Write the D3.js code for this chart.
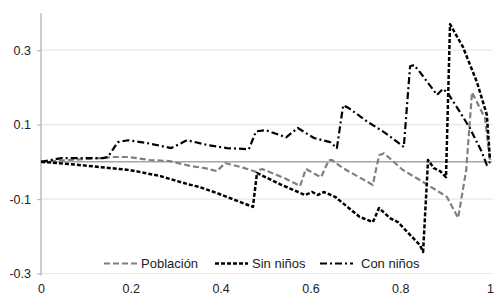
<!DOCTYPE html>
<html><head><meta charset="utf-8">
<script src="https://cdn.jsdelivr.net/npm/d3@7"></script>
<style>body{margin:0;background:#fff}svg{display:block}text{font-family:"Liberation Sans",Arial,sans-serif}</style>
</head><body><svg id="c" width="504" height="299"></svg>
<script>
const seriesNames = ["Población", "Sin niños", "Con niños"];
const xTicks = [0, 0.2, 0.4, 0.6, 0.8, 1];
const xTickLabels = ["0", "0.2", "0.4", "0.6", "0.8", "1"];
const yTicks = [-0.3, -0.1, 0.1, 0.3];
const yTickLabels = ["-0.3", "-0.1", "0.1", "0.3"];

const poblacion = [[0,0],[0.065,0.005],[0.131,0.010],[0.160,0.013],[0.194,0.013],[0.243,0.005],[0.287,0.002],[0.332,-0.011],[0.365,-0.017],[0.392,-0.025],[0.410,-0.003],[0.454,-0.017],[0.479,-0.027],[0.492,-0.019],[0.543,-0.044],[0.577,-0.065],[0.590,-0.019],[0.606,-0.030],[0.624,-0.041],[0.641,0.005],[0.648,0.005],[0.673,-0.017],[0.739,-0.062],[0.753,0.018],[0.764,0.023],[0.806,-0.022],[0.851,-0.054],[0.904,-0.094],[0.929,-0.151],[0.947,-0.022],[0.960,0.187],[0.971,0.160],[0.989,0.117],[1.0,0.002]];
const sinNinos = [[0,0],[0.065,-0.006],[0.131,-0.014],[0.198,-0.022],[0.265,-0.038],[0.327,-0.060],[0.354,-0.068],[0.392,-0.084],[0.472,-0.121],[0.481,-0.030],[0.532,-0.060],[0.588,-0.089],[0.604,-0.081],[0.617,-0.089],[0.630,-0.081],[0.655,-0.094],[0.710,-0.148],[0.739,-0.162],[0.753,-0.124],[0.777,-0.151],[0.795,-0.162],[0.844,-0.224],[0.851,-0.242],[0.862,0.005],[0.875,-0.017],[0.889,-0.025],[0.902,-0.041],[0.911,0.370],[0.940,0.308],[0.971,0.214],[0.993,0.126],[1.0,0.005]];
const conNinos = [[0,0],[0.045,0.010],[0.089,0.010],[0.138,0.010],[0.149,0.013],[0.171,0.053],[0.194,0.058],[0.238,0.050],[0.290,0.037],[0.325,0.058],[0.372,0.045],[0.414,0.037],[0.463,0.034],[0.479,0.082],[0.501,0.085],[0.546,0.066],[0.572,0.091],[0.608,0.064],[0.644,0.053],[0.659,0.037],[0.673,0.152],[0.686,0.144],[0.728,0.107],[0.764,0.080],[0.808,0.040],[0.822,0.257],[0.831,0.260],[0.844,0.241],[0.882,0.180],[0.895,0.196],[0.906,0.185],[0.933,0.134],[0.955,0.091],[0.982,0.026],[0.993,-0.009],[1.0,0.0]];

const svg = d3.select("#c");
const x = d3.scaleLinear().domain([0,1]).range([41,490]);
const y = d3.scaleLinear().domain([-0.3,0.4]).range([273.5,13]);

// gridlines
svg.append("g").selectAll("line").data(yTicks).join("line")
  .attr("x1",41).attr("x2",493).attr("y1",d=>y(d)).attr("y2",d=>y(d))
  .attr("stroke","#e9e7df").attr("stroke-width",1.2);

// y axis
const yAxis = d3.axisLeft(y).tickValues(yTicks).tickFormat((d,i)=>yTickLabels[i]).tickSize(4).tickPadding(6);
const gy = svg.append("g").attr("transform","translate(41,0)").call(yAxis);
gy.select(".domain").attr("stroke","#bcbcbc").attr("stroke-width",1.5).attr("d","M0,13V275.5");
gy.selectAll(".tick line").attr("stroke","#bcbcbc").attr("stroke-width",1.2);
gy.selectAll("text").attr("font-size",12.5).attr("fill","#222").attr("font-family","Liberation Sans, Arial, sans-serif");

// x axis (labels at bottom)
const xAxis = d3.axisBottom(x).tickValues(xTicks).tickFormat((d,i)=>xTickLabels[i]).tickSize(0).tickPadding(11);
const gx = svg.append("g").attr("transform","translate(0,"+y(-0.3)+")").call(xAxis);
gx.select(".domain").remove();
gx.selectAll("text").attr("font-size",12.5).attr("fill","#222").attr("font-family","Liberation Sans, Arial, sans-serif");

// zero line
svg.append("line").attr("x1",x(0)).attr("x2",x(1)+2).attr("y1",y(0)).attr("y2",y(0))
  .attr("stroke","#7a7a7a").attr("stroke-width",1);

const line = d3.line().x(d=>x(d[0])).y(d=>y(d[1]));
const styles = [
  {data:poblacion, color:"#808080", dash:"6,3", w:2.2},
  {data:sinNinos, color:"#000", dash:"4,2", w:2.5},
  {data:conNinos, color:"#000", dash:"7,3,2,3", w:2.2}
];
styles.forEach(s=>{
  svg.append("path").attr("d",line(s.data)).attr("fill","none")
    .attr("stroke",s.color).attr("stroke-width",s.w).attr("stroke-dasharray",s.dash)
    .attr("stroke-linejoin","round");
});

// legend
const legX = [104, 215, 320];
const lg = svg.append("g");
seriesNames.forEach((n,i)=>{
  const s = styles[i];
  lg.append("line").attr("x1",legX[i]).attr("x2",legX[i]+33).attr("y1",263.5).attr("y2",263.5)
    .attr("stroke",s.color).attr("stroke-width",s.w).attr("stroke-dasharray",s.dash);
  lg.append("text").attr("x",legX[i]+37+(i===2?4:0)).attr("y",268).attr("font-size",13).attr("fill","#222").text(n);
});
</script></body></html>
